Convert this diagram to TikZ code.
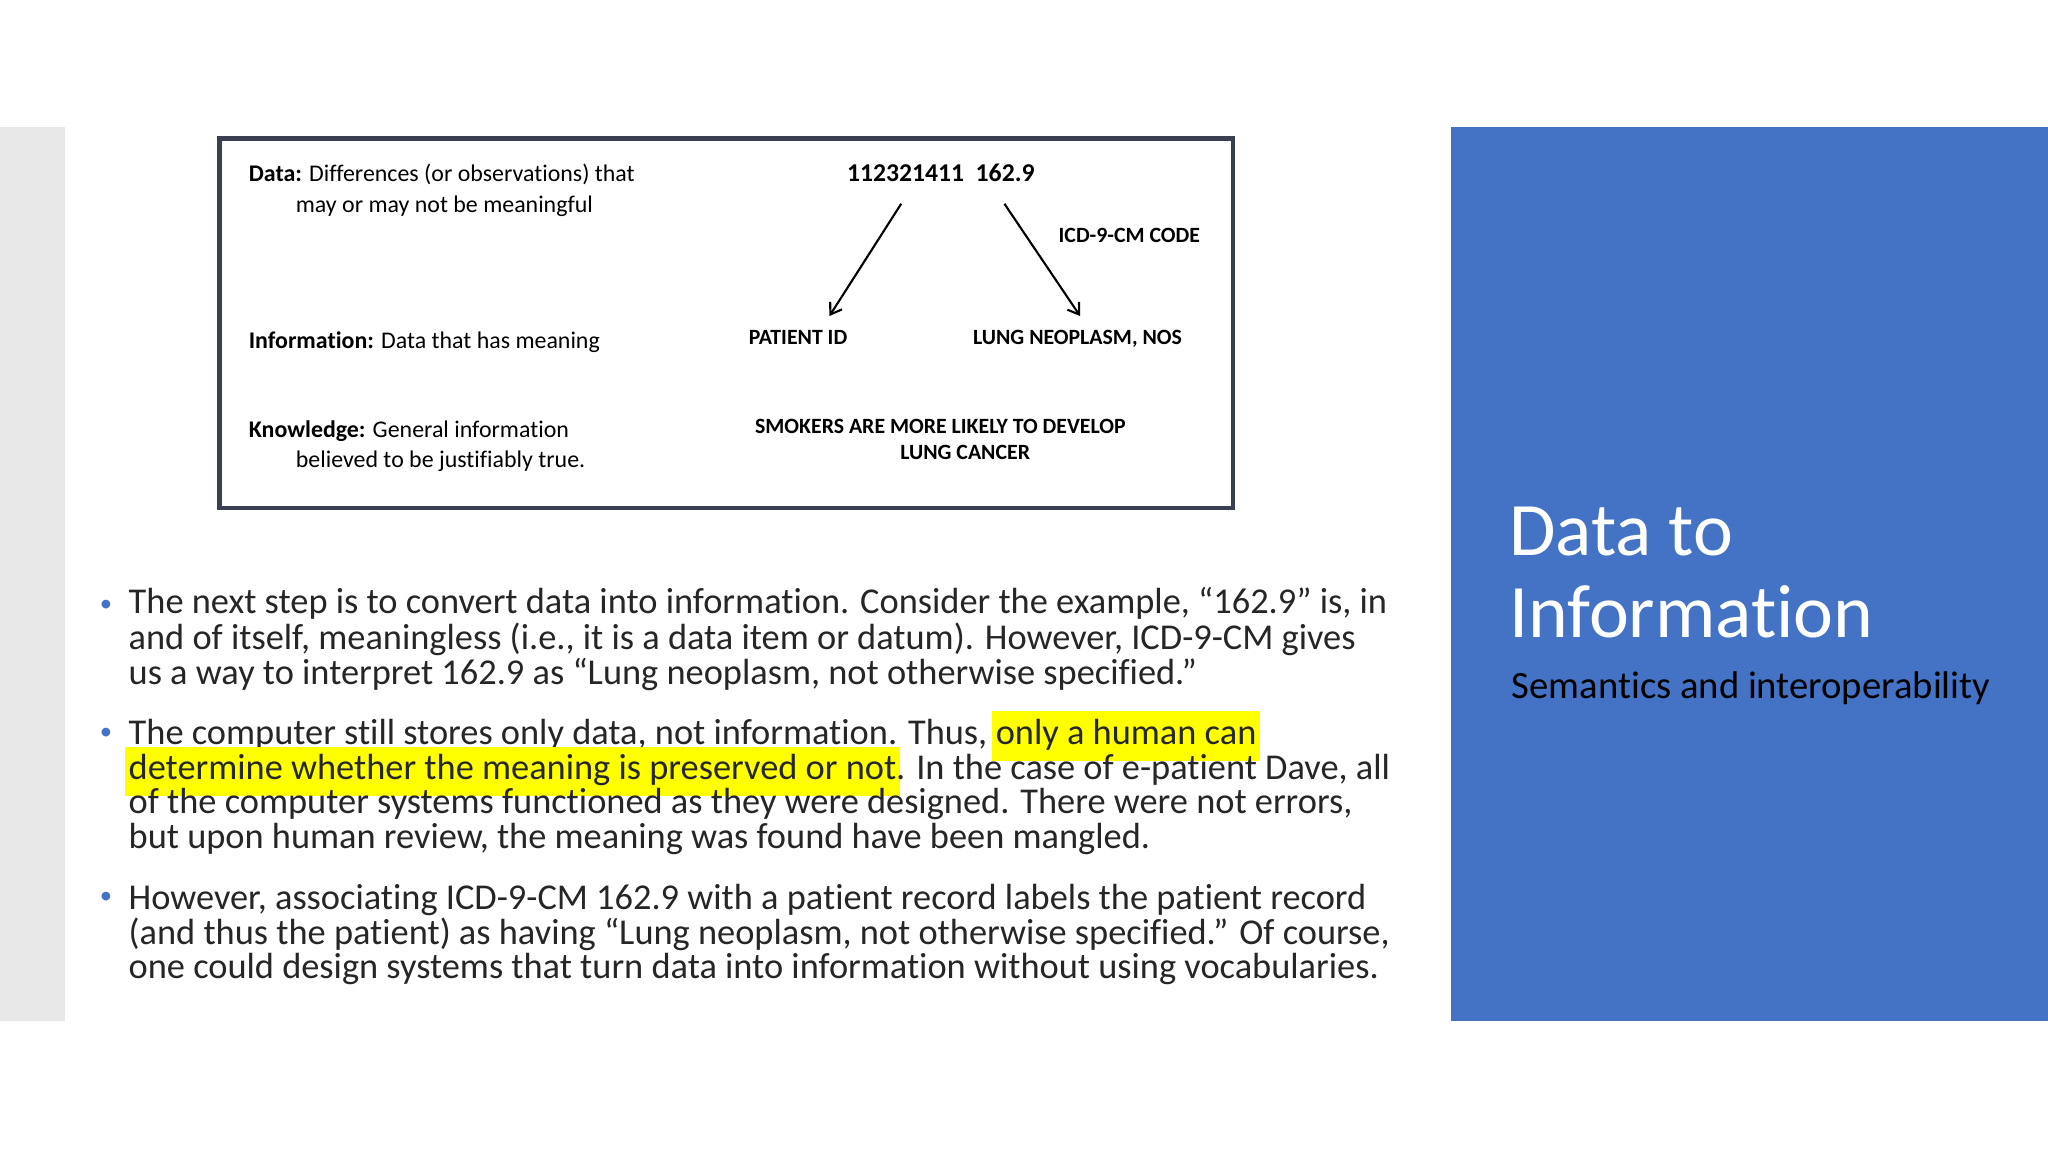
\documentclass[tikz,border=0pt]{standalone}
\usepackage{fontspec}
\setmainfont{Carlito}[Ligatures={NoCommon}]
\usetikzlibrary{arrows.meta}
\definecolor{slideblue}{HTML}{4472C4}
\definecolor{stripgray}{HTML}{E7E7E7}
\definecolor{boxframe}{HTML}{3A4050}
\definecolor{bodytext}{HTML}{262626}
\definecolor{hlyellow}{HTML}{FFFF00}
\newcommand{\hlt}[1]{{\setlength{\fboxsep}{1pt}\kern-\fboxsep\colorbox{hlyellow}{\strut #1}\kern-\fboxsep}}
\tikzset{
  x=0.0130612cm, y=-0.0130612cm,
  body/.style={anchor=base west, inner sep=0pt, font=\fontsize{10.35}{12}\selectfont, text=bodytext},
  bul/.style={anchor=base west, inner sep=0pt, font=\fontsize{7}{8}\selectfont, text=slideblue},
  small/.style={anchor=base west, inner sep=0pt, font=\fontsize{6.8}{8}\selectfont, text=black},
  smallc/.style={anchor=base, inner sep=0pt, font=\fontsize{6.2}{7.4}\selectfont\bfseries, text=black},
  arr/.style={-{Straight Barb[length=3pt,width=4pt]}, line width=0.6pt},
}
\begin{document}
\begin{tikzpicture}
\fill[white] (0,0) rectangle (1568,882);
\useasboundingbox (0,0) rectangle (1568,882);
\fill[stripgray] (0,97) rectangle (50,782);
\fill[slideblue] (1111,97) rectangle (1568,782);
\node[anchor=base west, inner sep=0pt, text=white, font=\fontsize{21.5}{25}\selectfont] (t1) at (1155,425) {Data to};
\node[anchor=base west, inner sep=0pt, text=white, font=\fontsize{21.5}{25}\selectfont] (t2) at (1155,488) {Information};
\node[anchor=base west, inner sep=0pt, text=black, font=\fontsize{11}{13}\selectfont] (st) at (1157,535) {Semantics and interoperability};

% figure box
\draw[boxframe, line width=1.3pt] (168,106) rectangle (944,389);
\node[small] (d1) at (190,139) {\textbf{Data:} Differences (or observations) that};
\node[small] (d2) at (226,163) {may or may not be meaningful};
\node[small] (i1) at (190,267) {\textbf{Information:} Data that has meaning};
\node[small] (k1) at (190,335) {\textbf{Knowledge:} General information};
\node[small] (k2) at (226,358) {believed to be justifiably true.};
\node[anchor=base west, inner sep=0pt, font=\fontsize{7.3}{8}\selectfont\bfseries] (num) at (648,139) {112321411\ \ 162.9};
\node[smallc, anchor=base west] (icd) at (810,186) {ICD-9-CM CODE};
\node[smallc] (pid) at (611,264) {PATIENT ID};
\node[smallc] (lung) at (825,264) {LUNG NEOPLASM, NOS};
\node[smallc] (smk) at (720,332) {SMOKERS ARE MORE LIKELY TO DEVELOP};
\node[smallc] (smk2) at (739,352) {LUNG CANCER};
\coordinate (a1s) at (690,156); \coordinate (a1e) at (635,242);
\coordinate (a2s) at (769,156); \coordinate (a2e) at (827,242);
\draw[arr] (a1s) -- (a1e);
\draw[arr] (a2s) -- (a2e);

% bullets
\node[bul] (b1) at (76,468) {•};
\node[body] (l1) at (98,470) {The next step is to convert data into information. Consider the example, “162.9” is, in};
\node[body] (l2) at (98,497) {and of itself, meaningless (i.e., it is a data item or datum). However, ICD-9-CM gives};
\node[body] (l3) at (98,524) {us a way to interpret 162.9 as “Lung neoplasm, not otherwise specified.”};
\node[bul] (b2) at (76,566) {•};
\node[body] (l4) at (98,570) {The computer still stores only data, not information. Thus, \hlt{only a human can}};
\node[body] (l5) at (98,597) {\hlt{determine whether the meaning is preserved or not}. In the case of e-patient Dave, all};
\node[body] (l6) at (98,623) {of the computer systems functioned as they were designed. There were not errors,};
\node[body] (l7) at (98,650) {but upon human review, the meaning was found have been mangled.};
\node[bul] (b3) at (76,692) {•};
\node[body] (l8) at (98,696) {However, associating ICD-9-CM 162.9 with a patient record labels the patient record};
\node[body] (l9) at (98,723) {(and thus the patient) as having “Lung neoplasm, not otherwise specified.” Of course,};
\node[body] (l10) at (98,749) {one could design systems that turn data into information without using vocabularies.};
\end{tikzpicture}
\end{document}
